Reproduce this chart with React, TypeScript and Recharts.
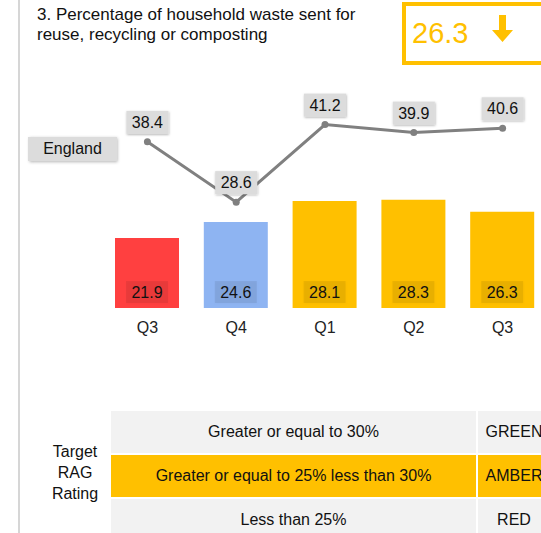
import React from 'react';
import { ComposedChart, Bar, Line, XAxis, YAxis, Cell, LabelList } from 'recharts';

const FONT = '"Liberation Sans", Arial, sans-serif';
const AMBER = '#FFC000';

const quarters = ['Q3', 'Q4', 'Q1', 'Q2', 'Q3'];
const localValues = [21.9, 24.6, 28.1, 28.3, 26.3];
const englandValues = [38.4, 28.6, 41.2, 39.9, 40.6];
const barColors = ['#FF4040', '#8EB4F2', AMBER, AMBER, AMBER];

const ragRows = ['Greater or equal to 30%', 'Greater or equal to 25% less than 30%', 'Less than 25%'];
const ragNames = ['GREEN', 'AMBER', 'RED'];
const ragColors = ['#F2F2F2', AMBER, '#F2F2F2'];

const latestValue = '26.3';

const chartData = quarters.map((q, i) => ({
  quarter: q,
  local: localValues[i],
  england: englandValues[i],
}));

// Label box sitting near the bottom of each bar
const BarValueLabel = (props: any) => {
  const { x, y, width, height, value } = props;
  const cx = x + width / 2;
  const bottom = y + height;
  return (
    <g>
      <rect x={cx - 21} y={bottom - 27} width={42} height={22} fill="rgba(0,0,0,0.07)" filter="url(#boxShadow)" />
      <text x={cx} y={bottom - 10} textAnchor="middle" fontSize={16} fontFamily={FONT} fill="#111">
        {value}
      </text>
    </g>
  );
};

// Grey callout above each England point
const LineValueLabel = (props: any) => {
  const { x, y, value } = props;
  return (
    <g>
      <rect x={x - 21} y={y - 31} width={42} height={23} fill="#DCDCDC" filter="url(#boxShadow)" />
      <text x={x} y={y - 14} textAnchor="middle" fontSize={16} fontFamily={FONT} fill="#111">
        {value}
      </text>
    </g>
  );
};

const QuarterTick = (props: any) => {
  const { x, y, payload } = props;
  return (
    <text x={x} y={y} dy={17} textAnchor="middle" fontSize={16} fontFamily={FONT} fill="#222">
      {payload.value}
    </text>
  );
};

export default function App() {
  return (
    <div
      style={{
        position: 'absolute',
        left: 0,
        top: 0,
        width: 541,
        height: 533,
        overflow: 'hidden',
        background: '#fff',
        fontFamily: FONT,
      }}
    >
      {/* left divider */}
      <div style={{ position: 'absolute', left: 18, top: 0, width: 2, height: 533, background: '#D6D6D6' }} />

      {/* title */}
      <div style={{ position: 'absolute', left: 37, top: 5, fontSize: 17, lineHeight: '19.5px', color: '#111' }}>
        3. Percentage of household waste sent for
        <br />
        reuse, recycling or composting
      </div>

      {/* latest value card */}
      <div
        style={{
          position: 'absolute',
          left: 402,
          top: 2,
          width: 180,
          height: 55,
          border: `4px solid ${AMBER}`,
        }}
      >
        <div style={{ position: 'absolute', left: 6, top: 10, fontSize: 29, lineHeight: '34px', color: AMBER }}>
          {latestValue}
        </div>
        <svg style={{ position: 'absolute', left: 85, top: 9 }} width={24} height={30}>
          <path d="M8 0 H15 V15 H22 L11.5 27 L1 15 H8 Z" fill={AMBER} />
        </svg>
      </div>

      {/* chart */}
      <div style={{ position: 'absolute', left: 0, top: 0 }}>
        <ComposedChart
          width={547}
          height={340}
          data={chartData}
          margin={{ top: 100, right: 0, left: 103, bottom: 0 }}
          barCategoryGap={12}
        >
          <defs>
            <filter id="boxShadow" x="-20%" y="-20%" width="140%" height="150%">
              <feDropShadow dx="0.5" dy="1" stdDeviation="1.2" floodColor="#000" floodOpacity="0.3" />
            </filter>
          </defs>
          <XAxis
            dataKey="quarter"
            height={32}
            axisLine={false}
            tickLine={false}
            interval={0}
            tick={<QuarterTick />}
          />
          <YAxis yAxisId="bar" hide domain={[10.2, 45]} allowDataOverflow />
          <YAxis yAxisId="line" hide domain={[11.4, 45.2]} allowDataOverflow />
          <Bar yAxisId="bar" dataKey="local" barSize={64} isAnimationActive={false}>
            {chartData.map((d, i) => (
              <Cell key={i} fill={barColors[i]} />
            ))}
            <LabelList dataKey="local" content={<BarValueLabel />} />
          </Bar>
          <Line
            yAxisId="line"
            dataKey="england"
            stroke="#808080"
            strokeWidth={3}
            dot={{ r: 3.5, fill: '#808080', stroke: '#808080', strokeWidth: 0 }}
            isAnimationActive={false}
          >
            <LabelList dataKey="england" content={<LineValueLabel />} />
          </Line>
        </ComposedChart>
      </div>

      {/* series label */}
      <div
        style={{
          position: 'absolute',
          left: 28,
          top: 137,
          width: 89,
          height: 24,
          background: '#DCDCDC',
          boxShadow: '0.5px 1px 3px rgba(0,0,0,0.3)',
          fontSize: 16,
          lineHeight: '24px',
          textAlign: 'center',
          color: '#111',
        }}
      >
        England
      </div>

      {/* RAG table */}
      <div
        style={{
          position: 'absolute',
          left: 40,
          top: 441,
          width: 70,
          fontSize: 16,
          lineHeight: '21px',
          textAlign: 'center',
          color: '#111',
        }}
      >
        Target
        <br />
        RAG
        <br />
        Rating
      </div>
      {ragRows.map((text, i) => (
        <React.Fragment key={i}>
          <div
            style={{
              position: 'absolute',
              left: 111,
              top: 411 + i * 44,
              width: 365,
              height: 42,
              background: ragColors[i],
              fontSize: 16,
              lineHeight: '42px',
              textAlign: 'center',
              color: '#111',
            }}
          >
            {text}
          </div>
          <div
            style={{
              position: 'absolute',
              left: 478,
              top: 411 + i * 44,
              width: 72,
              height: 42,
              background: ragColors[i],
              fontSize: 16,
              lineHeight: '42px',
              textAlign: 'center',
              color: '#111',
            }}
          >
            {ragNames[i]}
          </div>
        </React.Fragment>
      ))}
    </div>
  );
}
